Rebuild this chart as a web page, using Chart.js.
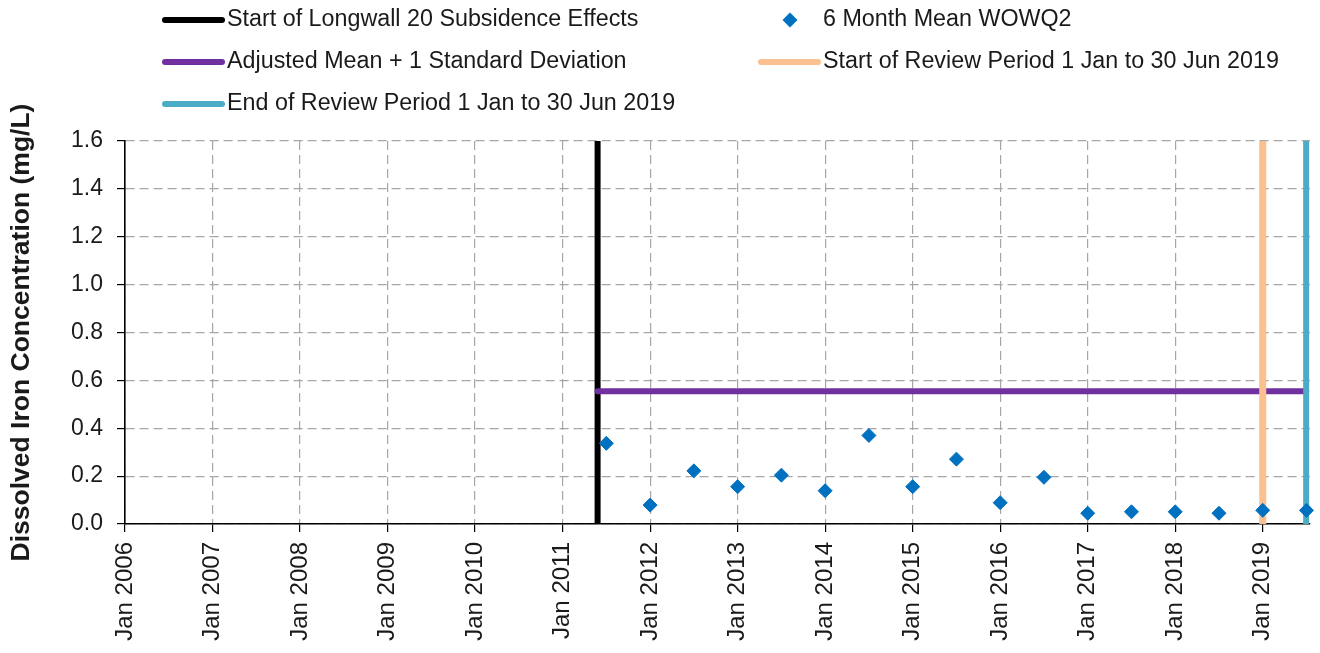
<!DOCTYPE html>
<html>
<head>
<meta charset="utf-8">
<script src="https://cdn.jsdelivr.net/npm/chart.js@4.4.1/dist/chart.umd.min.js"></script>
<style>
  body { margin: 0; background: #fff; }
  canvas { display: block; }
</style>
</head>
<body>
<canvas id="ironChart" width="1320" height="653"></canvas>
<script>
// x values are decimal years (2011.5 = Jul 2011)
const tickYears = [2006, 2007, 2008, 2009, 2010, 2011, 2012, 2013, 2014, 2015, 2016, 2017, 2018, 2019];
const meanDates = [2011.5, 2012, 2012.5, 2013, 2013.5, 2014, 2014.5, 2015, 2015.5, 2016, 2016.5, 2017, 2017.5, 2018, 2018.5, 2019, 2019.5];
const meanValues = [0.337, 0.079, 0.222, 0.156, 0.204, 0.139, 0.370, 0.156, 0.271, 0.089, 0.195, 0.045, 0.051, 0.051, 0.045, 0.057, 0.057];
const longwallStart = 2011.4;
const reviewStart = 2019.0;
const reviewEnd = 2019.496;
const adjustedMeanSD = 0.555;
const yTicks = [0, 0.2, 0.4, 0.6, 0.8, 1.0, 1.2, 1.4, 1.6];

const FONT = '"Liberation Sans", Arial, sans-serif';

// legend is laid out in two columns like the original
const legendItems = [
    { label: 'Start of Longwall 20 Subsidence Effects', kind: 'line', color: '#000000', col: 0, row: 0 },
    { label: '6 Month Mean WOWQ2', kind: 'point', color: '#0070C0', col: 1, row: 0 },
    { label: 'Adjusted Mean + 1 Standard Deviation', kind: 'line', color: '#7030A0', col: 0, row: 1 },
    { label: 'Start of Review Period 1 Jan to 30 Jun 2019', kind: 'line', color: '#FAC08F', col: 1, row: 1 },
    { label: 'End of Review Period 1 Jan to 30 Jun 2019', kind: 'line', color: '#4BACC6', col: 0, row: 2 }
];

const topLegend = {
    id: 'topLegend',
    afterDraw(chart) {
        const ctx = chart.ctx;
        ctx.save();
        ctx.font = '23.3px ' + FONT;
        ctx.textBaseline = 'middle';
        legendItems.forEach(item => {
            const y = 20 + item.row * 42;
            const x0 = item.col === 0 ? 165 : 761;
            if (item.kind === 'line') {
                ctx.strokeStyle = item.color;
                ctx.lineWidth = 6;
                ctx.lineCap = 'round';
                ctx.beginPath();
                ctx.moveTo(x0, y);
                ctx.lineTo(x0 + 57, y);
                ctx.stroke();
            } else {
                ctx.fillStyle = item.color;
                ctx.beginPath();
                ctx.moveTo(x0 + 29 - 7.5, y);
                ctx.lineTo(x0 + 29, y - 7.5);
                ctx.lineTo(x0 + 29 + 7.5, y);
                ctx.lineTo(x0 + 29, y + 7.5);
                ctx.closePath();
                ctx.fill();
            }
            ctx.fillStyle = '#1a1a1a';
            ctx.fillText(item.label, x0 + 62, y);
        });
        ctx.restore();
    }
};

function vline(x) {
    return [{ x: x, y: 0 }, { x: x, y: 1.6 }];
}

const ctx = document.getElementById('ironChart').getContext('2d');
new Chart(ctx, {
    type: 'scatter',
    data: {
        datasets: [
            {
                label: '6 Month Mean WOWQ2',
                data: meanDates.map((d, i) => ({ x: d, y: meanValues[i] })),
                backgroundColor: '#0070C0',
                borderColor: '#0070C0',
                pointStyle: 'rectRot',
                pointRadius: 7,
                borderWidth: 1,
                clip: false
            },
            {
                label: 'End of Review Period 1 Jan to 30 Jun 2019',
                type: 'line',
                data: vline(reviewEnd),
                borderColor: '#4BACC6',
                borderWidth: 6,
                pointRadius: 0,
                clip: false
            },
            {
                label: 'Start of Review Period 1 Jan to 30 Jun 2019',
                type: 'line',
                data: vline(reviewStart),
                borderColor: '#FAC08F',
                borderWidth: 7,
                pointRadius: 0,
                clip: false
            },
            {
                label: 'Adjusted Mean + 1 Standard Deviation',
                type: 'line',
                data: [{ x: longwallStart, y: adjustedMeanSD }, { x: reviewEnd, y: adjustedMeanSD }],
                borderColor: '#7030A0',
                borderWidth: 6,
                borderCapStyle: 'round',
                pointRadius: 0,
                clip: false
            },
            {
                label: 'Start of Longwall 20 Subsidence Effects',
                type: 'line',
                data: vline(longwallStart),
                borderColor: '#000000',
                borderWidth: 6,
                pointRadius: 0,
                clip: false
            }
        ]
    },
    options: {
        responsive: false,
        animation: false,
        devicePixelRatio: 1,
        layout: { padding: { top: 141, right: 10, left: 0, bottom: 0 } },
        plugins: {
            legend: { display: false },
            tooltip: { enabled: false }
        },
        scales: {
            x: {
                type: 'linear',
                min: 2006,
                max: 2019.54,
                afterBuildTicks: scale => {
                    scale.ticks = tickYears.map(v => ({ value: v }));
                },
                afterFit: scale => { scale.height = 129; },
                ticks: {
                    autoSkip: false,
                    minRotation: 90,
                    maxRotation: 90,
                    padding: 10,
                    color: '#1a1a1a',
                    font: { family: FONT, size: 24 },
                    callback: v => 'Jan ' + v
                },
                grid: {
                    color: '#A6A6A6',
                    lineWidth: 1.2,
                    tickColor: '#000000',
                    tickLength: 8,
                    tickWidth: 1.2
                },
                border: { color: '#000000', width: 1.6, dash: [9, 5] }
            },
            y: {
                min: 0,
                max: 1.6,
                afterBuildTicks: scale => {
                    scale.ticks = yTicks.map(v => ({ value: v }));
                },
                afterFit: scale => { scale.width = 125; },
                ticks: {
                    padding: 14,
                    color: '#1a1a1a',
                    font: { family: FONT, size: 23 },
                    callback: v => v.toFixed(1)
                },
                grid: {
                    color: '#A6A6A6',
                    lineWidth: 1.2,
                    tickColor: '#000000',
                    tickLength: 8,
                    tickWidth: 1.2
                },
                border: { color: '#000000', width: 1.6, dash: [9, 5] },
                title: {
                    display: true,
                    text: 'Dissolved Iron Concentration (mg/L)',
                    color: '#1a1a1a',
                    font: { family: FONT, size: 26.5, weight: 'bold' },
                    padding: { top: 6, bottom: 0 }
                }
            }
        }
    },
    plugins: [topLegend]
});
</script>
</body>
</html>
